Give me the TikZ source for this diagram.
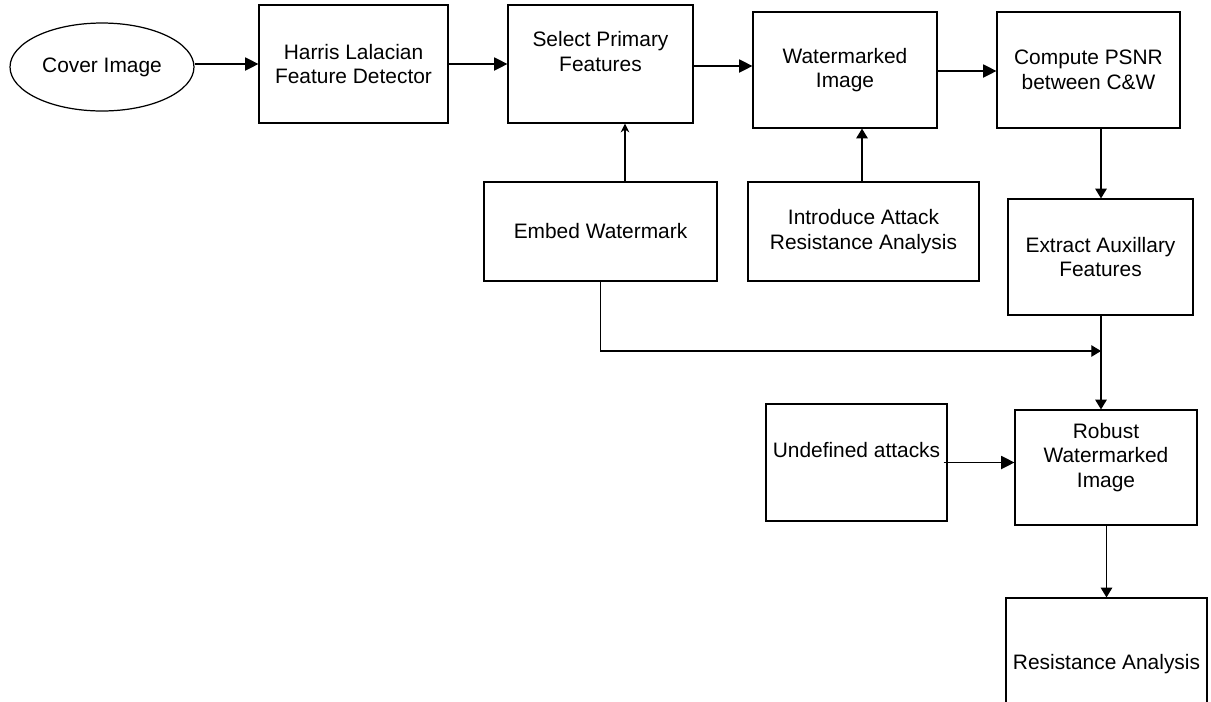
\documentclass[tikz,border=0pt]{standalone}
\usepackage{fontspec}
\setmainfont{Liberation Sans}
\usetikzlibrary{arrows.meta, shapes.geometric}
\newcommand\boxfont{\fontsize{11.9}{14}\selectfont}

\begin{document}
\begin{tikzpicture}[x=0.02cm, y=-0.02cm, line width=0.7pt,
  box/.style={draw, rectangle, align=center, font=\boxfont, inner sep=2pt},
  flow/.style={-{Triangle[length=7.5pt,width=7.5pt]}},
  drop/.style={-{Triangle[length=5.5pt,width=6.5pt]}},
  thin tip/.style={-{Stealth[length=5pt,width=5pt]}}]
\useasboundingbox (0,0) rectangle (1211,701);
\clip (0,0) rectangle (1211,701);

\node at (102,67) [draw, ellipse, minimum width=3.68cm, minimum height=1.76cm, inner sep=0pt, font=\boxfont] (cover) {Cover Image};
\node at (353.5,64) [box, minimum width=3.78cm, minimum height=2.36cm] (harris) {Harris Lalacian\\Feature Detector};
\node at (600.5,64) [box, minimum width=3.70cm, minimum height=2.36cm] (select) {Select Primary\\Features\\ };
\node at (845,70) [box, minimum width=3.68cm, minimum height=2.32cm] (wmimage) {Watermarked\\Image};
\node at (1088.5,70) [box, minimum width=3.66cm, minimum height=2.32cm] (psnr) {Compute PSNR\\between C\&W};

\node at (600.5,231.5) [box, minimum width=4.66cm, minimum height=1.98cm] (embed) {Embed Watermark};
\node at (863.5,231.5) [box, minimum width=4.62cm, minimum height=1.98cm] (attack) {Introduce Attack\\Resistance Analysis};
\node at (1100.5,257) [box, minimum width=3.70cm, minimum height=2.32cm] (extract) {Extract Auxillary\\Features};

\node at (856.5,462.5) [box, minimum width=3.62cm, minimum height=2.34cm] (undef) {Undefined attacks\\ };
\node at (1106,467.5) [box, minimum width=3.64cm, minimum height=2.30cm] (robust) {Robust\\Watermarked\\Image\\ };
\node at (1106.5,664) [box, minimum width=4.02cm, minimum height=2.64cm] (resist) {Resistance Analysis};

\coordinate (join) at (1101,351);

% top row
\draw[flow] (cover.east |- harris.west) -- (harris.west);
\draw[flow] (harris.east) -- (select.west);
\draw[flow] ([yshift=-0.04cm]select.east) -- ([yshift=-0.04cm]select.east -| wmimage.west);
\draw[flow] ([yshift=-0.02cm]wmimage.east) -- ([yshift=-0.02cm]psnr.west);

% feeding up
\draw[thin tip] ([xshift=0.49cm]embed.north) -- ([xshift=0.49cm]embed.north |- select.south);
\draw[drop] ([xshift=-0.03cm]attack.north) -- ([xshift=-0.03cm]attack.north |- wmimage.south);

% right column
\draw[drop] (psnr.south -| join) -- (extract.north -| join);
\draw[drop] (embed.south) |- (join);
\draw[drop] (extract.south -| join) -- (robust.north -| join);
\draw[flow] ([xshift=-0.08cm]undef.east) -- (undef.east -| robust.west);
\draw[drop] (robust.south -| resist.north) -- (resist.north);
\end{tikzpicture}
\end{document}
